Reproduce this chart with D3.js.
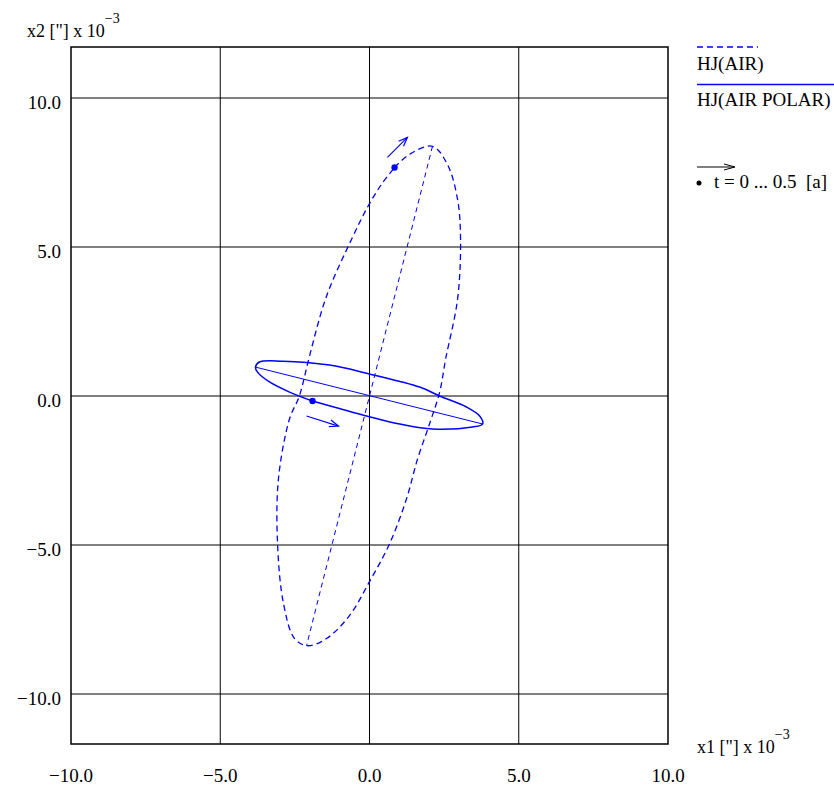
<!DOCTYPE html>
<head>
<meta charset="utf-8">
<style>
body { margin: 0; background: #fff; }
text { font-family: "Liberation Serif", "Times New Roman", serif; fill: #000; }
</style>
</head>
<body>
<script src="https://cdn.jsdelivr.net/npm/d3@7"></script>
<script>
var width = 834, height = 793;

// axis ticks
var xTicks = [-10, -5, 0, 5, 10];
var yTicks = [10, 5, 0, -5, -10];
var tickLabels = ["\u221210.0", "\u22125.0", "0.0", "5.0", "10.0"];

// HJ(AIR) - dashed curve, starting at t = 0
var airX = [0.84, 1.34, 2.11, 2.61, 2.95, 3.05, 2.95, 2.55, 2.35, 2.01, 1.61, 1.24, 0.67, 0.00, -0.67, -1.44, -2.08, -2.51, -2.88, -3.08, -3.05, -2.68, -2.35, -2.01, -1.44, -0.60, -0.07, 0.40, 0.84];
var airY = [7.67, 8.11, 8.38, 7.77, 6.60, 5.26, 3.25, 1.24, 0.13, -0.94, -2.11, -3.45, -4.96, -6.23, -7.37, -8.14, -8.38, -8.14, -6.97, -4.96, -2.78, -0.77, 0.00, 1.34, 3.35, 5.26, 6.33, 7.10, 7.67];
var airAxisX = [2.11, -2.11];
var airAxisY = [8.38, -8.38];

// HJ(AIR POLAR) - solid curve, starting at t = 0
var polX = [-1.91, -1.01, -0.10, 1.01, 2.11, 3.45, 3.79, 3.69, 3.25, 2.35, 1.68, 0.00, -1.34, -2.91, -3.69, -3.82, -3.75, -3.35, -2.68, -1.91];
var polY = [-0.17, -0.42, -0.67, -0.94, -1.11, -1.04, -0.94, -0.67, -0.37, 0.00, 0.30, 0.74, 1.04, 1.17, 1.14, 0.97, 0.80, 0.47, 0.13, -0.17];
var polAxisX = [-3.82, 3.79];
var polAxisY = [0.97, -0.94];

// direction arrows [x0, y0, x1, y1]
var arrows = [[0.60, 8.01, 1.27, 8.68], [-2.11, -0.67, -1.04, -1.01]];

var pLeft = 71, pRight = 668, pTop = 47, pBottom = 744;
var x = d3.scaleLinear().domain([-10, 10]).range([pLeft, pRight]);
var y = d3.scaleLinear().domain([-10, 10]).range([694, 98]);

var svg = d3.select("body").append("svg")
  .attr("width", width).attr("height", height);

svg.append("defs").append("marker")
  .attr("id", "head").attr("viewBox", "-10 -5 12 10")
  .attr("refX", 0).attr("refY", 0)
  .attr("markerWidth", 12).attr("markerHeight", 10)
  .attr("markerUnits", "userSpaceOnUse").attr("orient", "auto")
  .append("path").attr("d", "M-9,-3.5L0,0L-9,3.5")
  .attr("fill", "none").attr("stroke", "blue").attr("stroke-width", 1.2);

// grid
svg.selectAll(".vg").data(xTicks.slice(1, 4)).enter().append("line")
  .attr("x1", x).attr("x2", x).attr("y1", pTop).attr("y2", pBottom)
  .attr("stroke", "#000").attr("stroke-width", 1);
svg.selectAll(".hg").data(yTicks).enter().append("line")
  .attr("x1", pLeft).attr("x2", pRight).attr("y1", y).attr("y2", y)
  .attr("stroke", "#000").attr("stroke-width", 1);
svg.append("rect").attr("x", pLeft).attr("y", pTop)
  .attr("width", pRight - pLeft).attr("height", pBottom - pTop)
  .attr("fill", "none").attr("stroke", "#000").attr("stroke-width", 1.5);

// tick labels
svg.selectAll(".xl").data(xTicks).enter().append("text")
  .attr("x", x).attr("y", 782).attr("text-anchor", "middle")
  .style("font-size", "19px").text(function(d, i) { return tickLabels[i]; });
svg.selectAll(".yl").data(yTicks).enter().append("text")
  .attr("x", 61).attr("y", function(d) { return y(d) + 11; }).attr("text-anchor", "end")
  .style("font-size", "19px").text(function(d) { return tickLabels[xTicks.indexOf(d)]; });

// axis titles
var yt = svg.append("text").attr("x", 27).attr("y", 37).style("font-size", "18px");
yt.append("tspan").text("x2 [\"] x 10");
yt.append("tspan").attr("dy", -14).style("font-size", "14px").text("\u22123");
var xt = svg.append("text").attr("x", 697).attr("y", 753).style("font-size", "18px");
xt.append("tspan").text("x1 [\"] x 10");
xt.append("tspan").attr("dy", -14).style("font-size", "14px").text("\u22123");

var line = d3.line().x(function(d) { return x(d[0]); }).y(function(d) { return y(d[1]); });

var air = airX.map(function(v, i) { return [v, airY[i]]; });
var pol = polX.map(function(v, i) { return [v, polY[i]]; });

svg.append("path").attr("d", line.curve(d3.curveCatmullRom)(air))
  .attr("fill", "none").attr("stroke", "blue").attr("stroke-width", 1.3)
  .attr("stroke-dasharray", "6,4");
svg.append("path").attr("d", line.curve(d3.curveLinear)(airAxisX.map(function(v, i) { return [v, airAxisY[i]]; })))
  .attr("fill", "none").attr("stroke", "blue").attr("stroke-width", 1)
  .attr("stroke-dasharray", "5,4");

svg.append("path").attr("d", line.curve(d3.curveCatmullRom)(pol))
  .attr("fill", "none").attr("stroke", "blue").attr("stroke-width", 1.5);
svg.append("path").attr("d", line.curve(d3.curveLinear)(polAxisX.map(function(v, i) { return [v, polAxisY[i]]; })))
  .attr("fill", "none").attr("stroke", "blue").attr("stroke-width", 1);

// start dots
svg.selectAll(".dot").data([air[0], pol[0]]).enter().append("circle")
  .attr("cx", function(d) { return x(d[0]); }).attr("cy", function(d) { return y(d[1]); })
  .attr("r", 3.2).attr("fill", "blue");

svg.selectAll(".arr").data(arrows).enter().append("line")
  .attr("x1", function(d) { return x(d[0]); }).attr("y1", function(d) { return y(d[1]); })
  .attr("x2", function(d) { return x(d[2]); }).attr("y2", function(d) { return y(d[3]); })
  .attr("stroke", "blue").attr("stroke-width", 1.2).attr("marker-end", "url(#head)");

// legend
svg.append("line").attr("x1", 697).attr("x2", 758).attr("y1", 47).attr("y2", 47)
  .attr("stroke", "blue").attr("stroke-width", 1.3).attr("stroke-dasharray", "6,4");
svg.append("text").attr("x", 697).attr("y", 70).style("font-size", "19px").text("HJ(AIR)");
svg.append("line").attr("x1", 697).attr("x2", 834).attr("y1", 84.5).attr("y2", 84.5)
  .attr("stroke", "blue").attr("stroke-width", 1.5);
svg.append("text").attr("x", 697).attr("y", 106).style("font-size", "19px").text("HJ(AIR POLAR)");

svg.append("line").attr("x1", 697).attr("x2", 734).attr("y1", 167).attr("y2", 167)
  .attr("stroke", "#000").attr("stroke-width", 1);
svg.append("path").attr("d", "M724,164L735,167L724,170").attr("fill", "none").attr("stroke", "#000");
svg.append("circle").attr("cx", 699).attr("cy", 183).attr("r", 2.5).attr("fill", "#000");
svg.append("text").attr("x", 714).attr("y", 188).style("font-size", "19px")
  .attr("xml:space", "preserve").text("t = 0 ... 0.5  [a]");
</script>
</body>
